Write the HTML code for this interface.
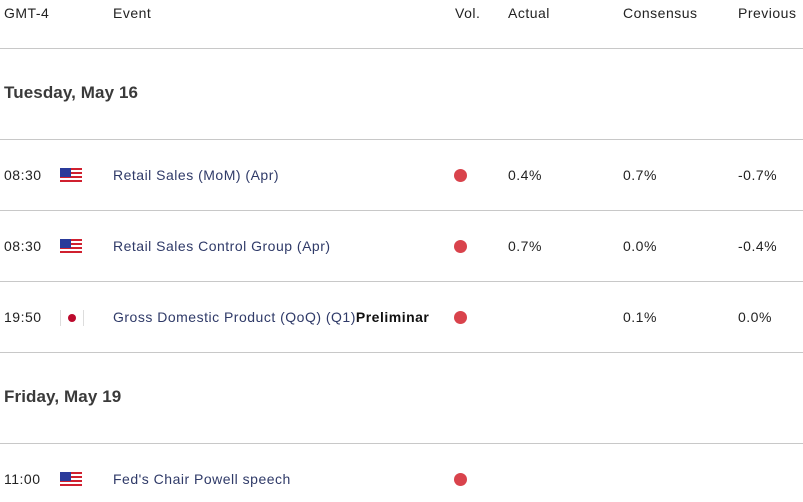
<!DOCTYPE html>
<html><head><style>
body{margin:0;width:803px;height:502px;background:#fff;position:relative;overflow:hidden;font-family:"Liberation Sans",sans-serif;font-size:14px;letter-spacing:0.5px;color:#222}
.t{position:absolute;white-space:nowrap;line-height:16px}
.l{position:absolute;left:0;width:803px;height:1px;background:#c8c8c8}
.ev{color:#2f3a68}
.d{position:absolute;width:13px;height:13px;border-radius:50%;background:#d9434c}
.us{position:absolute;width:22px;height:16px;background:repeating-linear-gradient(#d0202f 0 2px,#fff 2px 4px)}
.us:before{content:"";position:absolute;left:0;top:0;width:11px;height:9px;background:#2a3a9a}
.jp{position:absolute;width:22px;height:16px;background:#fff;border-left:1px solid #ddd;border-right:1px solid #ddd}
.jp:after{content:"";position:absolute;left:7px;top:4px;width:8px;height:8px;border-radius:50%;background:#bc0a2d}
.h{font-size:17px;font-weight:bold;color:#3a3a3a;letter-spacing:0.1px}
</style></head><body>
<div class="t" style="left:4px;top:5px">GMT-4</div>
<div class="t" style="left:113px;top:5px">Event</div>
<div class="t" style="left:455px;top:5px">Vol.</div>
<div class="t" style="left:508px;top:5px">Actual</div>
<div class="t" style="left:623px;top:5px">Consensus</div>
<div class="t" style="left:738px;top:5px">Previous</div>
<div class="l" style="top:48px"></div>
<div class="t h" style="left:4px;top:85px">Tuesday, May 16</div>
<div class="l" style="top:139px"></div>
<div class="t" style="left:4px;top:167px">08:30</div><div class="us" style="left:60px;top:168px"></div>
<div class="t ev" style="left:113px;top:167px">Retail Sales (MoM) (Apr)</div>
<div class="d" style="left:454px;top:169px"></div>
<div class="t" style="left:508px;top:167px">0.4%</div><div class="t" style="left:623px;top:167px">0.7%</div><div class="t" style="left:738px;top:167px">-0.7%</div>
<div class="l" style="top:210px"></div>
<div class="t" style="left:4px;top:238px">08:30</div><div class="us" style="left:60px;top:239px"></div>
<div class="t ev" style="left:113px;top:238px">Retail Sales Control Group (Apr)</div>
<div class="d" style="left:454px;top:240px"></div>
<div class="t" style="left:508px;top:238px">0.7%</div><div class="t" style="left:623px;top:238px">0.0%</div><div class="t" style="left:738px;top:238px">-0.4%</div>
<div class="l" style="top:281px"></div>
<div class="t" style="left:4px;top:309px">19:50</div><div class="jp" style="left:60px;top:310px"></div>
<div class="t ev" style="left:113px;top:309px">Gross Domestic Product (QoQ) (Q1)<b style="color:#111">Preliminar</b></div>
<div class="d" style="left:454px;top:311px"></div>
<div class="t" style="left:623px;top:309px">0.1%</div><div class="t" style="left:738px;top:309px">0.0%</div>
<div class="l" style="top:352px"></div>
<div class="t h" style="left:4px;top:389px">Friday, May 19</div>
<div class="l" style="top:443px"></div>
<div class="t" style="left:4px;top:471px">11:00</div><div class="us" style="left:60px;top:472px"></div>
<div class="t ev" style="left:113px;top:471px">Fed's Chair Powell speech</div>
<div class="d" style="left:454px;top:473px"></div>
</body></html>
